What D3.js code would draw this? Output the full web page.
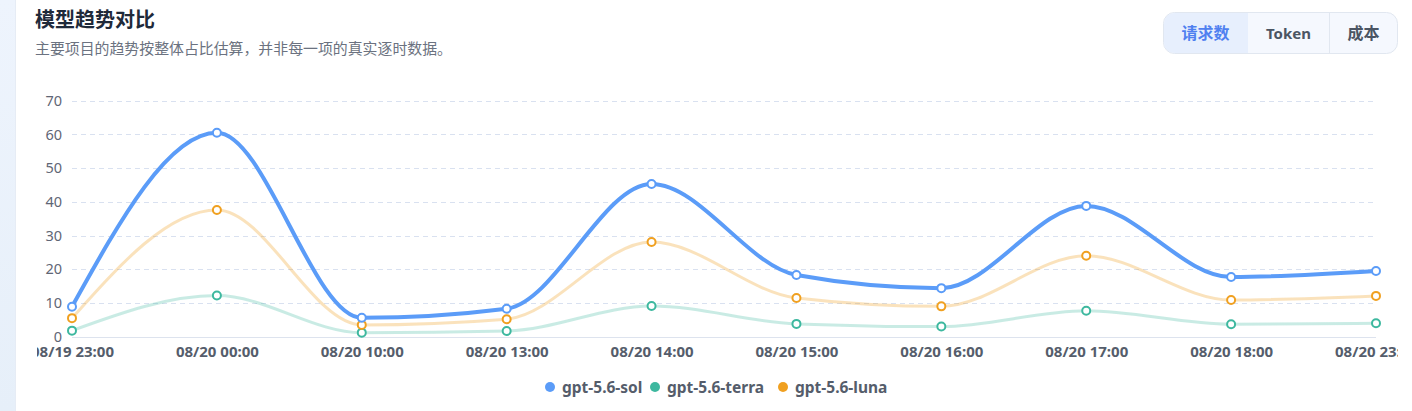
<!DOCTYPE html>
<html><head><meta charset="utf-8">
<script src="https://cdn.jsdelivr.net/npm/d3@7/dist/d3.min.js"></script>
<style>
html,body{margin:0;padding:0;width:1412px;height:411px;overflow:hidden;background:#fff;}
body{background:linear-gradient(180deg,#eef4fd,#e6eff9);}
#card{position:absolute;left:15px;top:0;width:1397px;height:411px;background:#fff;border-left:1px solid #e6ecf5;}
svg{position:absolute;left:0;top:0;}
</style></head>
<body>
<div id="card"></div>
<svg id="chart" width="1412" height="411"></svg>
<script>
const categories = ["08/19 23:00","08/20 00:00","08/20 10:00","08/20 13:00","08/20 14:00","08/20 15:00","08/20 16:00","08/20 17:00","08/20 18:00","08/20 23:00"];
const seriesNames = ["gpt-5.6-sol","gpt-5.6-terra","gpt-5.6-luna"];
const solValues = [8.9, 60.5, 5.6, 8.3, 45.3, 18.3, 14.4, 38.8, 17.7, 19.5];
const terraValues = [1.8, 12.2, 1.2, 1.7, 9.1, 3.8, 3.0, 7.7, 3.7, 4.0];
const lunaValues = [5.5, 37.6, 3.5, 5.2, 28.1, 11.5, 9.0, 24.0, 10.9, 12.1];
const yTicks = [0,10,20,30,40,50,60,70];
const tabs = ["请求数","Token","成本"];

const svg = d3.select("#chart");
const FONT = "'Noto Sans','Noto Sans CJK SC',sans-serif";

// Header
svg.append("text").attr("x",35).attr("y",27).text("模型趋势对比")
  .attr("font-family",FONT).attr("font-size",20).attr("font-weight",700).attr("fill","#1f2a3a");
svg.append("text").attr("x",35).attr("y",54).text("主要项目的趋势按整体占比估算，并非每一项的真实逐时数据。")
  .attr("font-family",FONT).attr("font-size",14.9).attr("fill","#6b7280");

// Tabs
const tabX = d3.scaleOrdinal().domain(tabs).range([1163,1248,1329]);
const tabW = {"请求数":85,"Token":81,"成本":69};
const tg = svg.append("g");
tg.append("rect").attr("x",1163.5).attr("y",12.5).attr("width",234).attr("height",41).attr("rx",11)
  .attr("fill","#f5f8fe").attr("stroke","#e1e7f0");
tg.append("path").attr("d","M1174.5,13 H1248 V53 H1174.5 A10.5,10.5 0 0 1 1164,42.5 V23.5 A10.5,10.5 0 0 1 1174.5,13 Z")
  .attr("fill","#e7effd");
tg.append("line").attr("x1",1329.5).attr("x2",1329.5).attr("y1",13).attr("y2",53).attr("stroke","#e1e7f0");
tabs.forEach((t,i)=>{
  tg.append("text").attr("x",tabX(t)+tabW[t]/2).attr("y",39).attr("text-anchor","middle").text(t)
    .attr("font-family",FONT).attr("font-size",i===1?15:16).attr("font-weight",700)
    .attr("fill",i===0?"#4f80f0":"#4b5563");
});

// Scales
const x = d3.scalePoint().domain(categories).range([72,1376]);
const y = d3.scaleLinear().domain([0,70]).range([336.7,100.7]);

const clip = svg.append("defs").append("clipPath").attr("id","clipc");
clip.append("rect").attr("x",37).attr("y",60).attr("width",1361).attr("height",310);
const g = svg.append("g").attr("clip-path","url(#clipc)");

// grid
g.append("g").selectAll("line").data(yTicks.filter(d=>d>0)).join("line")
  .attr("x1",72).attr("x2",1376).attr("y1",d=>Math.round(y(d))+0.5).attr("y2",d=>Math.round(y(d))+0.5)
  .attr("stroke","#d9e1f0").attr("stroke-width",1).attr("stroke-dasharray","5,4");
g.append("line").attr("x1",72).attr("x2",1376).attr("y1",337.5).attr("y2",337.5).attr("stroke","#dde3ee").attr("stroke-width",1.2);

// y axis labels
const yAxis = d3.axisLeft(y).tickValues(yTicks).tickSize(0).tickPadding(10);
const ya = g.append("g").attr("transform","translate(72,0)").call(yAxis);
ya.select(".domain").remove();
ya.selectAll("text").attr("font-family",FONT).attr("font-size",14.5).attr("fill","#5f6675");

// x axis labels
const xAxis = d3.axisBottom(x).tickSize(0).tickPadding(8);
const xa = g.append("g").attr("transform","translate(0,338)").call(xAxis);
xa.select(".domain").remove();
xa.selectAll("text").attr("font-family",FONT).attr("font-size",15).attr("font-weight",700).attr("fill","#555d6b");

// series
const series = [
  {name:seriesNames[0], values:solValues, color:"#5b9cf8", opacity:1, width:4},
  {name:seriesNames[1], values:terraValues, color:"#3db89f", opacity:0.28, width:3},
  {name:seriesNames[2], values:lunaValues, color:"#f0a020", opacity:0.3, width:3}
];
const line = d3.line().x((d,i)=>x(categories[i])).y(d=>y(d)).curve(d3.curveMonotoneX);
[series[1],series[2],series[0]].forEach(s=>{
  g.append("path").attr("d",line(s.values)).attr("fill","none")
    .attr("stroke",s.color).attr("stroke-opacity",s.opacity).attr("stroke-width",s.width)
    .attr("stroke-linejoin","round").attr("stroke-linecap","round");
});
[series[1],series[2],series[0]].forEach(s=>{
  g.append("g").selectAll("circle").data(s.values).join("circle")
    .attr("cx",(d,i)=>x(categories[i])).attr("cy",d=>y(d)).attr("r",4)
    .attr("fill","#fff").attr("stroke",s.color).attr("stroke-width",2);
});

// legend
const legX = [550,655,783];
const lg = svg.append("g");
series.forEach((s,i)=>{
  lg.append("circle").attr("cx",legX[i]).attr("cy",387).attr("r",5).attr("fill",s.color);
  lg.append("text").attr("x",legX[i]+12).attr("y",392.5).text(s.name)
    .attr("font-family",FONT).attr("font-size",15.5).attr("font-weight",700).attr("fill","#555d6b");
});
</script>
</body></html>
